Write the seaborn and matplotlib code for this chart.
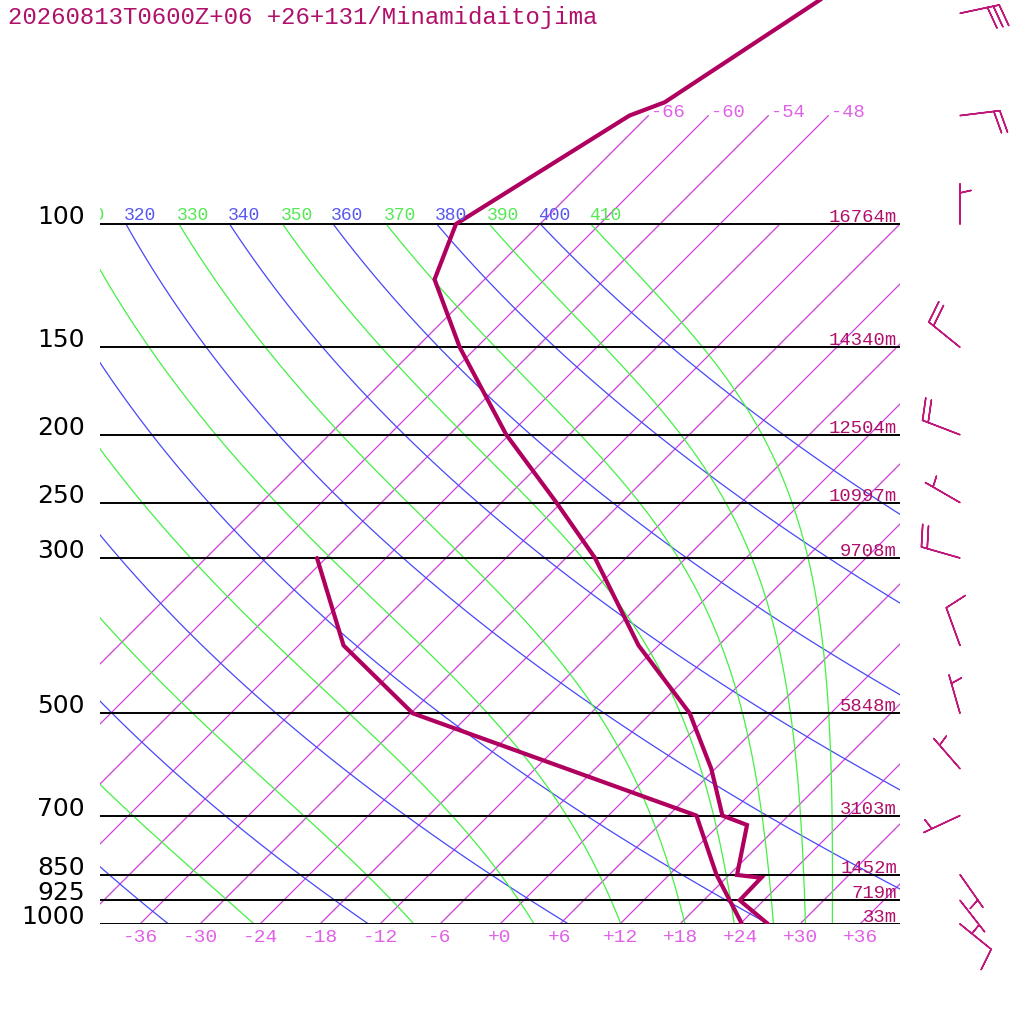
import numpy as np
import pandas as pd
import matplotlib
matplotlib.use("Agg")
import matplotlib.pyplot as plt
from matplotlib.transforms import offset_copy
import seaborn as sns

# sounding values
t_pres = [1000, 925, 859, 851, 722, 700, 600, 500, 400, 300, 250, 200, 150, 120, 100, 70, 67, 50, 30]
t_temp = [26.8, 21.6, 21.5, 18.8, 14.8, 11.4, 5.6, -2.1, -14.0, -27.1, -36.5, -48.3, -61.7, -71.0, -74.4, -67.9, -65.7, -61.1, -53.2]

td_pres = [1000, 925, 850, 700, 500, 400, 300]
td_temp = [24.2, 20.6, 16.7, 8.8, -29.8, -43.5, -54.9]

wind_pres = [1000, 925, 850, 700, 600, 500, 400, 300, 250, 200, 150, 100, 70, 50]
wind_dir = [129, 142, 145, 245, 319, 344, 340, 286, 300, 291, 309, 0, 83, 78]
wind_kt = [10, 5, 5, 5, 5, 5, 10, 20, 5, 20, 20, 5, 20, 30]

std_pres = [1000, 925, 850, 700, 500, 300, 250, 200, 150, 100]
std_hgt = [33, 719, 1452, 3103, 5848, 9708, 10997, 12504, 14340, 16764]

iso_temps = list(range(-66, 37, 6))
iso_upper = [-66, -60, -54, -48]
tick_temps = list(range(-36, 37, 6))
dry_theta = list(range(240, 401, 20))
moist_thetae = list(range(250, 411, 20))

title = "20260813T0600Z+06 +26+131/Minamidaitojima"

# colours
C_ISO = "#d040dc"
C_ISO_TXT = "#e060e8"
C_DRY = "#4848f8"
C_DRY_TXT = "#5858f0"
C_MOIST = "#44f044"
C_MOIST_TXT = "#55e855"
C_PROF = "#b0005f"
C_TXT = "#b0106a"

SKEW = 30.4  # degC shift per ln(1000/p)
KAPPA = 0.2857


def skx(t, p):
    return np.asarray(t, float) + SKEW * np.log(1000.0 / np.asarray(p, float))


def thetae(tk, p):
    # Bolton (1980), saturated air
    tc = tk - 273.15
    es = 6.112 * np.exp(17.67 * tc / (tc + 243.5))
    r = 622.0 * es / (p - es)
    th = tk * (1000.0 / p) ** (0.2854 * (1 - 0.28e-3 * r))
    return th * np.exp((3.376 / tk - 0.00254) * r * (1 + 0.81e-3 * r))


sns.set_theme(style="white")
plt.rcParams["font.family"] = ["Liberation Mono", "DejaVu Sans Mono"]

fig = plt.figure(figsize=(10.24, 10.24), dpi=100)
ax = fig.add_axes([100 / 1024, 100 / 1024, 800 / 1024, 924 / 1024])
ax.set_yscale("log")

p_lev = np.geomspace(1000, 100, 120)

# isotherms
for t in iso_temps:
    ax.plot(skx(t, p_lev), p_lev, color=C_ISO, lw=0.9)
p_up = np.geomspace(100, 70, 10)
for t in iso_upper:
    ax.plot(skx(t, p_up), p_up, color=C_ISO, lw=0.9)

# dry adiabats
for th in dry_theta:
    tt = th * (p_lev / 1000.0) ** KAPPA - 273.15
    ax.plot(skx(tt, p_lev), p_lev, color=C_DRY, lw=0.9)

# moist adiabats (constant theta-e)
tk_grid = np.arange(150.0, 330.0, 0.05)
for the in moist_thetae:
    tt = np.array([np.interp(the, thetae(tk_grid, p), tk_grid) for p in p_lev]) - 273.15
    ax.plot(skx(tt, p_lev), p_lev, color=C_MOIST, lw=0.9)

# pressure levels
ax.hlines(std_pres, -40, 40, color="black", lw=1.4)

# sounding
df_t = pd.DataFrame({"x": skx(t_temp, t_pres), "p": t_pres})
df_td = pd.DataFrame({"x": skx(td_temp, td_pres), "p": td_pres})
for d in (df_t, df_td):
    sns.lineplot(data=d, x="x", y="p", sort=False, estimator=None, ax=ax,
                 color=C_PROF, lw=3.0, solid_joinstyle="miter")

# wind barbs
wd = np.deg2rad(wind_dir)
u = -np.array(wind_kt) * np.sin(wd)
v = -np.array(wind_kt) * np.cos(wd)
ax.barbs(np.full(len(wind_pres), 46.0), wind_pres, u, v, length=7.6,
         color="#c0187a", linewidth=1.1, clip_on=False,
         sizes=dict(spacing=0.15, height=0.55, width=0.25))

# labels
up4 = offset_copy(ax.transData, fig=fig, x=-2, y=4, units="dots")
for th in dry_theta:
    x100 = skx(th * 0.1 ** KAPPA - 273.15, 100)
    if -46 < x100 < 40:
        ax.text(x100, 100, str(th), transform=up4, ha="left", va="baseline",
                color=C_DRY_TXT, fontsize=13, clip_on=True)
for the in moist_thetae:
    x100 = skx(np.interp(the, thetae(tk_grid, 100.0), tk_grid) - 273.15, 100)
    if -46 < x100 < 40:
        ax.text(x100, 100, str(the), transform=up4, ha="left", va="baseline",
                color=C_MOIST_TXT, fontsize=13, clip_on=True)

top_off = offset_copy(ax.transData, fig=fig, x=3, y=-1, units="dots")
for t in iso_upper:
    ax.text(skx(t, 70), 70, f"{t:+d}".replace("+", ""), transform=top_off,
            ha="left", va="baseline", color=C_ISO_TXT, fontsize=13.5)

bot_off = offset_copy(ax.transData, fig=fig, x=0, y=-13, units="dots")
for t in tick_temps:
    ax.text(t, 1000, f"{t:+d}", transform=bot_off, ha="center", va="center",
            color=C_ISO_TXT, fontsize=14, clip_on=False)

hgt_off = offset_copy(ax.transData, fig=fig, x=0, y=2, units="dots")
for p, h in zip(std_pres, std_hgt):
    ax.text(39.7, p, f"{h}m", transform=hgt_off, ha="right", va="baseline",
            color=C_TXT, fontsize=13.6)
    ax.text(-41.5, p, str(p), ha="right", va="baseline", color="black",
            fontsize=18, family="DejaVu Sans", clip_on=False)

fig.text(8 / 1024, 1 - 6 / 1024, title, ha="left", va="top", fontsize=17.3,
         color=C_TXT)

ax.set_xlim(-40, 40)
ax.set_ylim(1000, 1000 * np.exp(-924 / 304))
ax.axis("off")

fig.savefig("out.png", dpi=100, facecolor="white")
